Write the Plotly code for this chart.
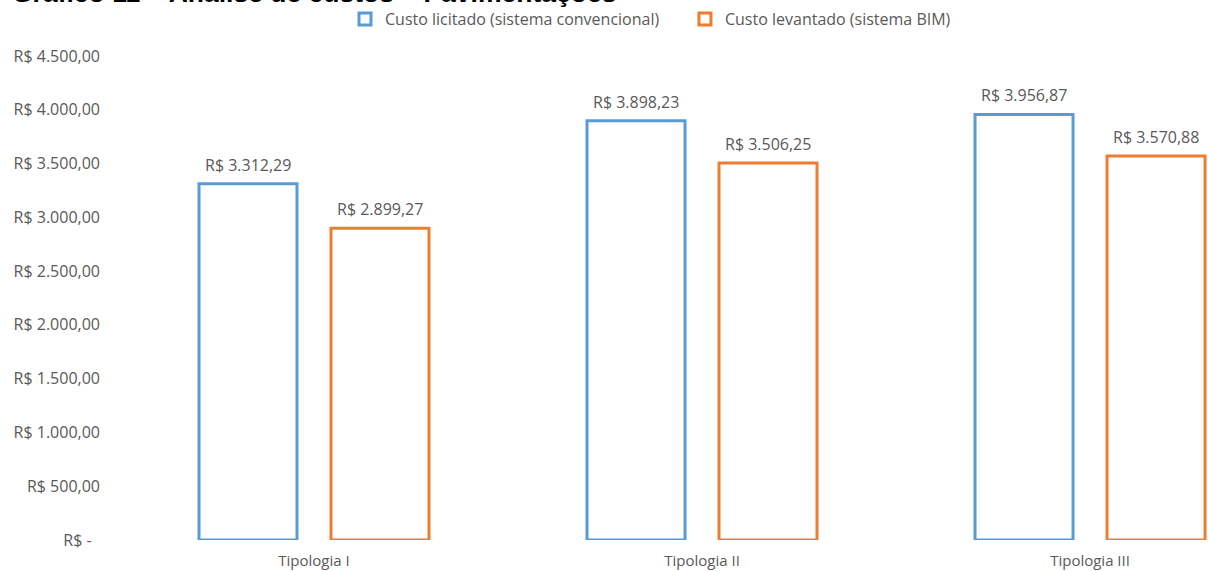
import plotly.graph_objects as go

categories = ["Tipologia I", "Tipologia II", "Tipologia III"]
custo_licitado = [3312.29, 3898.23, 3956.87]
custo_levantado = [2899.27, 3506.25, 3570.88]
series_names = ["Custo licitado (sistema convencional)", "Custo levantado (sistema BIM)"]
ytick_vals = [0, 500, 1000, 1500, 2000, 2500, 3000, 3500, 4000, 4500]
ytick_text = ["R$ -\u00a0\u00a0", "R$ 500,00", "R$ 1.000,00", "R$ 1.500,00", "R$ 2.000,00", "R$ 2.500,00",
              "R$ 3.000,00", "R$ 3.500,00", "R$ 4.000,00", "R$ 4.500,00"]
title_text = "Gráfico 11 – Análise de custos – Pavimentações"

BLUE = "#5B9BD5"
ORANGE = "#ED7D31"
GRAY = "#595959"
FONT = "'Open Sans', sans-serif"
BAR_W = 0.2526


def brl(v):
    s = f"{v:,.2f}"
    s = s.replace(",", "X").replace(".", ",").replace("X", ".")
    return "R$ " + s


fig = go.Figure()
fig.add_trace(go.Bar(x=categories, y=custo_licitado, name=series_names[0] + "\u00a0" * 5,
                     width=BAR_W, offset=-0.2964,
                     marker=dict(color="rgba(255,255,255,0)", line=dict(color=BLUE, width=3))))
fig.add_trace(go.Bar(x=categories, y=custo_levantado, name=series_names[1],
                     width=BAR_W, offset=0.0438,
                     marker=dict(color="rgba(255,255,255,0)", line=dict(color=ORANGE, width=3))))

annotations = []
for vals, shift in ((custo_licitado, -66), (custo_levantado, 66)):
    for c, v in zip(categories, vals):
        annotations.append(dict(x=c, y=v, xref="x", yref="y", text=brl(v), showarrow=False,
                                xshift=shift, yanchor="bottom", yshift=6,
                                font=dict(family=FONT, size=16, color=GRAY)))

annotations.append(dict(x=(10 - 120) / 1088, y=(540 - 10.5) / 484, xref="paper", yref="paper",
                        xanchor="left", yanchor="bottom", showarrow=False, text="<b>" + title_text + "</b>",
                        font=dict(family="Liberation Sans, Arial, sans-serif", size=26.5, color="black")))

fig.update_layout(
    width=1208, height=571,
    margin=dict(l=120, r=0, t=56, b=31),
    paper_bgcolor="white", plot_bgcolor="white",
    barmode="overlay",
    showlegend=True,
    legend=dict(orientation="h", x=(345 - 120) / 1088, xanchor="left", y=(540 - 2) / 484, yanchor="top",
                font=dict(family=FONT, size=16, color=GRAY), bgcolor="rgba(0,0,0,0)",
                itemwidth=30, tracegroupgap=0),
    annotations=annotations,
    font=dict(family=FONT, size=16, color=GRAY),
)
fig.update_xaxes(type="category", range=[-0.5, 2.304], showgrid=False, showline=False,
                 ticks="", tickfont=dict(family=FONT, size=15, color=GRAY), ticklabelstandoff=10)
fig.update_yaxes(range=[0, 4500], tickvals=ytick_vals, ticktext=ytick_text, showgrid=False,
                 zeroline=False, showline=False, ticks="", ticklabelstandoff=19,
                 tickfont=dict(family=FONT, size=16, color=GRAY))

fig.write_html("out.html")
